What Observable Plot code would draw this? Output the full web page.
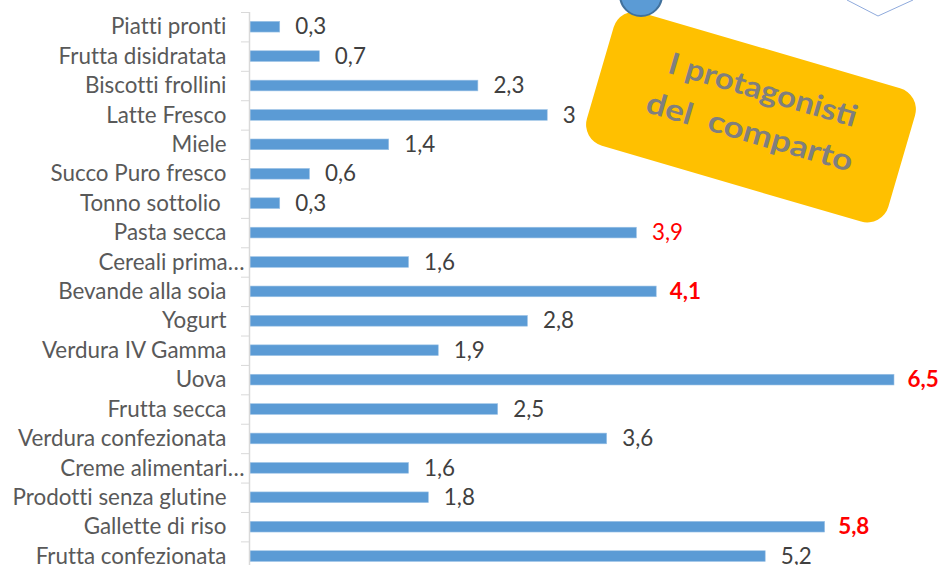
<!DOCTYPE html>
<html><head><meta charset="utf-8">
<script src="https://cdn.jsdelivr.net/npm/d3@7"></script>
<script src="https://cdn.jsdelivr.net/npm/@observablehq/plot@0.6"></script>
<style>
html,body{margin:0;padding:0;background:#fff;overflow:hidden;width:939px;height:565px}
#wrap{position:relative;width:939px;height:565px;overflow:hidden}
#deco{position:absolute;left:0;top:0;pointer-events:none}
</style></head><body>
<div id="wrap"><div id="chart"></div>
<svg id="deco" width="939" height="565" viewBox="0 0 939 565">
  <g transform="translate(751,117) rotate(16.3)">
    <rect x="-157" y="-69.5" width="314" height="139" rx="22" ry="22" fill="#FFC000"/>
    <text x="4" y="-19" text-anchor="middle" font-family="Lato, sans-serif" font-weight="bold" font-size="30" fill="#7f7f7f" textLength="195" lengthAdjust="spacingAndGlyphs">I protagonisti</text>
    <text x="3" y="25" text-anchor="middle" font-family="Lato, sans-serif" font-weight="bold" font-size="30" fill="#7f7f7f" textLength="214" lengthAdjust="spacingAndGlyphs" style="white-space:pre">del  comparto</text>
  </g>
  <circle cx="641" cy="-5" r="21" fill="#5b9bd5" stroke="#41719c" stroke-width="2"/>
  <polyline points="847,0 878,16 913,0" fill="none" stroke="#8faadc" stroke-width="1"/>
</svg>
</div>
<script>
const categories = ["Piatti pronti","Frutta disidratata","Biscotti frollini","Latte Fresco","Miele","Succo Puro fresco","Tonno sottolio ","Pasta secca","Cereali prima…","Bevande alla soia","Yogurt","Verdura IV Gamma","Uova","Frutta secca","Verdura confezionata","Creme alimentari…","Prodotti senza glutine","Gallette di riso","Frutta confezionata"];
const values = [0.3,0.7,2.3,3,1.4,0.6,0.3,3.9,1.6,4.1,2.8,1.9,6.5,2.5,3.6,1.6,1.8,5.8,5.2];
const redNormal = ["Pasta secca"];
const redBold = ["Bevande alla soia","Uova","Gallette di riso"];
const truncated = ["Cereali prima…","Creme alimentari…"];

const data = categories.map((c,i)=>({cat:c, value:values[i], label:String(values[i]).replace(".", ",")}));
const font = "Lato, sans-serif";
const fs = 22.4;
const stepPx = (570.8-12)/categories.length;

const chart = Plot.plot({
  width:939, height:565,
  marginLeft:250, marginRight:45, marginTop:12, marginBottom:0,
  style:{fontFamily:font, background:"#fff", fontVariantLigatures:"none"},
  x:{domain:[0,6.5], axis:null},
  y:{domain:categories, range:[12,570.8], paddingInner:0.636, paddingOuter:0.318, round:false, axis:null},
  marks:[
    Plot.barX(data, {x:"value", y:"cat", fill:"#5b9bd5", stroke:"#9dc3e6", strokeWidth:0.6}),
    Plot.axisY({tickSize:8, tickFormat:()=>"", label:null, dy:-stepPx/2, dx:-1, stroke:"#d9d9d9"}),
    Plot.ruleX([0], {dx:-1, stroke:"#d9d9d9", strokeWidth:1.5}),
    Plot.text(data.filter(d=>!truncated.includes(d.cat)), {x:0, y:"cat", text:"cat", textAnchor:"end", dx:-24, fill:"#595959", fontSize:fs}),
    Plot.text(data.filter(d=>truncated.includes(d.cat)), {x:0, y:"cat", text:"cat", textAnchor:"end", dx:-6, fill:"#595959", fontSize:fs}),
    Plot.text(data.filter(d=>!redNormal.includes(d.cat)&&!redBold.includes(d.cat)), {x:"value", y:"cat", text:"label", textAnchor:"start", dx:15, fill:"#404040", fontSize:fs}),
    Plot.text(data.filter(d=>redNormal.includes(d.cat)), {x:"value", y:"cat", text:"label", textAnchor:"start", dx:15, fill:"#ff0000", fontSize:fs}),
    Plot.text(data.filter(d=>redBold.includes(d.cat)), {x:"value", y:"cat", text:"label", textAnchor:"start", dx:13, fill:"#ff0000", fontSize:fs, fontWeight:"bold"})
  ]
});
document.getElementById("chart").appendChild(chart);
</script>
</body></html>
